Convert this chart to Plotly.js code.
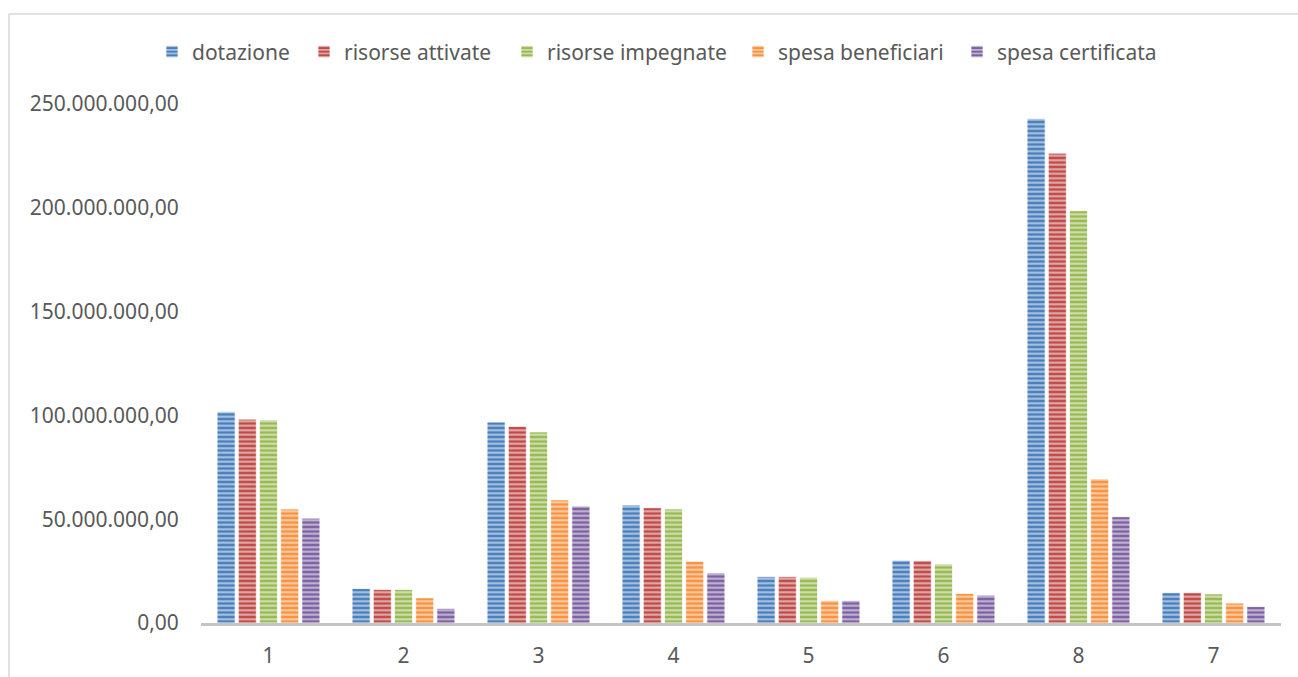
<!DOCTYPE html>
<html>
<head>
<meta charset="utf-8">
<script src="https://cdn.plot.ly/plotly-3.0.1.min.js"></script>
<style>
  html, body { margin: 0; padding: 0; background: #ffffff; }
  #chart { width: 1298px; height: 677px; }
</style>
</head>
<body>
<div id="chart"></div>
<script>
// Categories (as shown on the x axis, in order)
const categories = ['1', '2', '3', '4', '5', '6', '8', '7'];

// Series values (euro)
const dotazione          = [101.7e6, 16.6e6, 96.8e6, 56.8e6, 22.3e6, 30.2e6, 242.9e6, 14.7e6];
const risorseAttivate    = [ 98.2e6, 16.1e6, 94.7e6, 55.5e6, 22.3e6, 30.0e6, 226.3e6, 14.7e6];
const risorseImpegnate   = [ 97.8e6, 16.1e6, 92.0e6, 54.9e6, 22.0e6, 28.4e6, 198.6e6, 14.0e6];
const spesaBeneficiari   = [ 54.9e6, 12.1e6, 59.3e6, 29.7e6, 10.8e6, 14.2e6,  69.4e6,  9.6e6];
const spesaCertificata   = [ 50.5e6,  7.0e6, 56.3e6, 24.1e6, 10.8e6, 13.4e6,  51.2e6,  7.9e6];

const seriesNames = ['dotazione', 'risorse attivate', 'risorse impegnate', 'spesa beneficiari', 'spesa certificata'];
const seriesValues = [dotazione, risorseAttivate, risorseImpegnate, spesaBeneficiari, spesaCertificata];

const baseColors  = ['#4A7EBB', '#BE4B48', '#98B954', '#F69240', '#7D60A0'];
const lightColors = ['#AEC6E4', '#E4AEAD', '#D2E1B2', '#FCCEA8', '#C4B8D6'];

// left pixel of each legend entry's swatch
const legendSwatchLeft = [166, 318, 521, 752, 971];

const legendIds = ['legend', 'legend2', 'legend3', 'legend4', 'legend5'];

const traces = seriesNames.map((name, i) => ({
  type: 'bar',
  name: name,
  x: categories,
  y: seriesValues[i],
  legend: legendIds[i],
  marker: {
    color: baseColors[i],
    line: { color: 'rgba(255,255,255,0.7)', width: 1 },
    pattern: {
      shape: '-',
      bgcolor: baseColors[i],
      fgcolor: lightColors[i],
      size: 4.5,
      solidity: 0.45
    }
  },
  hoverinfo: 'x+y+name'
}));

const W = 1298, H = 677;
const mL = 201, mR = 17, mT = 104, mB = 54;
const pw = W - mL - mR, ph = H - mT - mB;

const legendFont = { family: 'Noto Sans, sans-serif', size: 21, color: '#595959' };

const layout = {
  width: W,
  height: H,
  paper_bgcolor: '#ffffff',
  plot_bgcolor: '#ffffff',
  margin: { l: mL, r: mR, t: mT, b: mB, pad: 0 },
  separators: ',.',
  barmode: 'group',
  bargap: 0.215,
  bargroupgap: 0.15,
  font: { family: 'Noto Sans, sans-serif', size: 21, color: '#595959' },
  showlegend: true,
  xaxis: {
    type: 'category',
    showgrid: false,
    zeroline: false,
    showline: true,
    linecolor: '#C4C4C4',
    linewidth: 3,
    ticks: 'outside',
    ticklen: 12,
    tickcolor: 'rgba(0,0,0,0)',
    tickfont: { family: 'Noto Sans, sans-serif', size: 21, color: '#595959' },
    fixedrange: true
  },
  yaxis: {
    range: [0, 250e6],
    dtick: 50e6,
    tick0: 0,
    tickformat: ',.2f',
    showgrid: false,
    zeroline: false,
    showline: false,
    ticks: 'outside',
    ticklen: 17,
    tickcolor: 'rgba(0,0,0,0)',
    tickfont: { family: 'Noto Sans, sans-serif', size: 21, color: '#595959' },
    fixedrange: true
  },
  shapes: [
    { type: 'line', xref: 'paper', yref: 'paper',
      x0: (9 - mL) / pw, x1: (9 - mL) / pw,
      y0: 1 + (mT - 14) / ph, y1: -0.2,
      line: { color: '#D9D9D9', width: 1.5 } },
    { type: 'line', xref: 'paper', yref: 'paper',
      x0: (9 - mL) / pw, x1: 1.1,
      y0: 1 + (mT - 14) / ph, y1: 1 + (mT - 14) / ph,
      line: { color: '#D9D9D9', width: 1.5 } }
  ]
};

legendIds.forEach((id, i) => {
  layout[id] = {
    orientation: 'h',
    x: (legendSwatchLeft[i] - 14 - mL) / pw,
    xanchor: 'left',
    y: 1 + (mT - 52) / ph,
    yanchor: 'middle',
    font: legendFont,
    bgcolor: 'rgba(0,0,0,0)',
    itemwidth: 30
  };
});

Plotly.newPlot('chart', traces, layout, { displayModeBar: false, staticPlot: true });
</script>
</body>
</html>
